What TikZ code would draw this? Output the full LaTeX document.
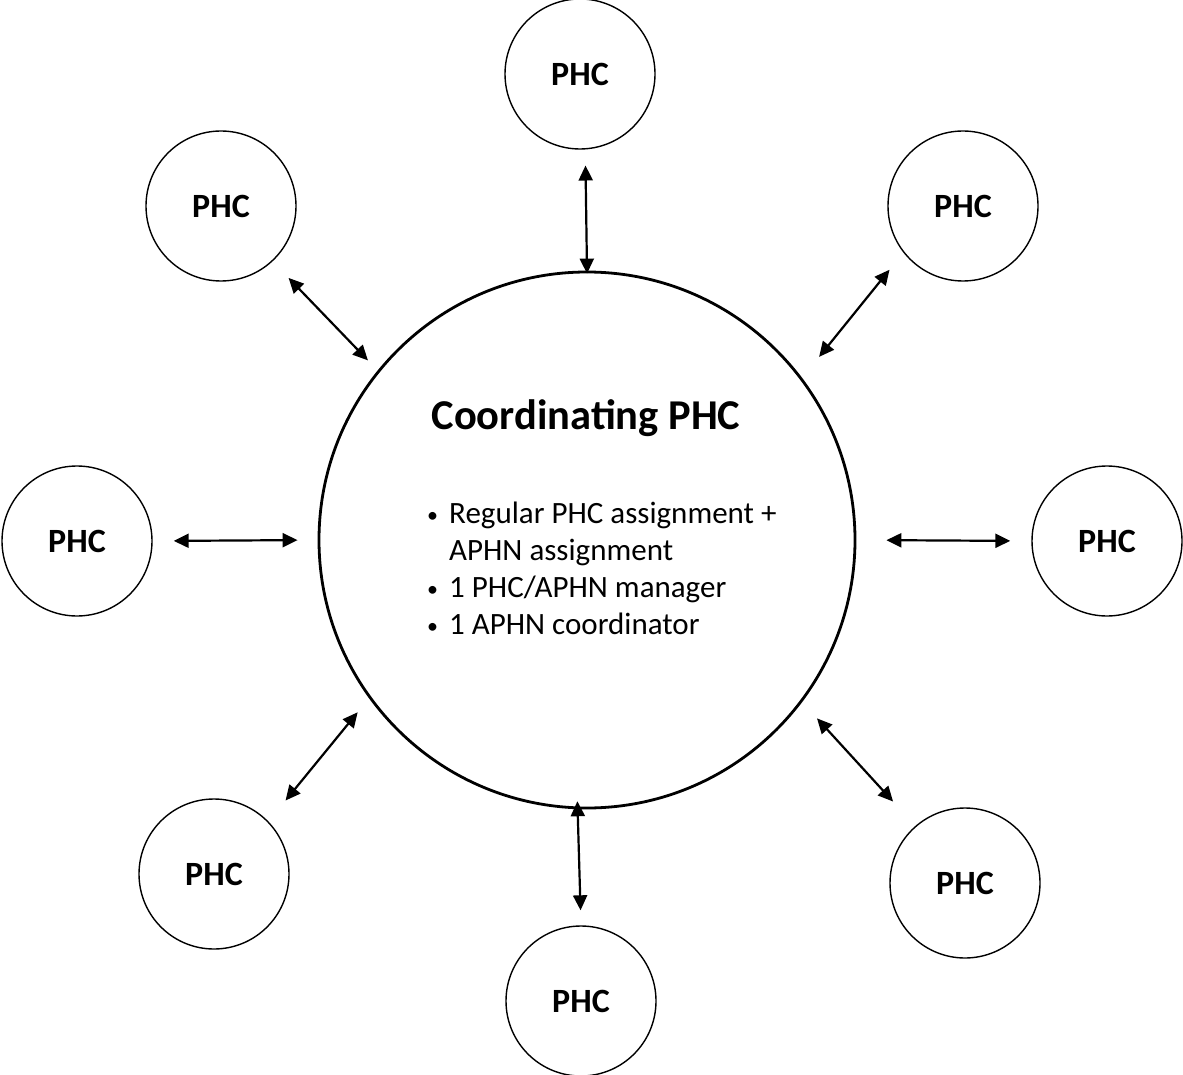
\documentclass[tikz,border=0pt]{standalone}
\usepackage{fontspec}
\setmainfont{Carlito}
\usetikzlibrary{
  arrows.meta,
  positioning,
}
\tikzset{
  >={Triangle[length=15pt,width=14pt]},
}
\newcommand{\dotitem}{\makebox[22pt][l]{\raisebox{1pt}{\fontsize{22}{22}\selectfont\textbullet}}}

\begin{document}
\begin{tikzpicture}[x=1pt, y=-1pt,
      phc/.style={circle, draw, line width=1.4pt, minimum size=150pt, inner sep=0pt,
        font=\fontsize{34}{40}\selectfont\bfseries},
      hub/.style={circle, draw, line width=2.8pt, minimum size=536pt, inner sep=0pt},
      link/.style={<->, line width=2.2pt, shorten <=21pt, shorten >=20pt},
    ]
  \useasboundingbox (0,0) rectangle (1183,1075);
  \node [hub] (hub) at (587,540) {};
  \node [font=\fontsize{42.5}{48}\selectfont\bfseries] (title) at (586,418) {Coordinating PHC};
  \node [font=\fontsize{31}{37}\selectfont, align=left, anchor=north west, inner sep=0pt]
        (tasks) at (427,502)
        {\dotitem Regular PHC assignment +\\
         \hspace*{22pt}APHN assignment\\
         \dotitem 1 PHC/APHN manager\\
         \dotitem 1 APHN coordinator};
  % surrounding centres
  \node [phc] (top)        at (580,74)   {PHC};
  \node [phc] (upperleft)  at (221,206)  {PHC};
  \node [phc] (upperright) at (963,206)  {PHC};
  \node [phc] (left)       at (77,541)   {PHC};
  \node [phc] (right)      at (1107,541) {PHC};
  \node [phc] (lowerleft)  at (214,874)  {PHC};
  \node [phc] (lowerright) at (965,883)  {PHC};
  \node [phc] (bottom)     at (581,1001) {PHC};
  \draw [link, shorten <=16pt, shorten >=-3pt] (top.-86) -- (hub.north);
  \draw [link, shorten <=23pt, shorten >=14pt] (upperleft.-47) -- (hub.141);
  \draw [link, shorten <=22pt, shorten >=27pt] (upperright.-142) -- (hub.37);
  \draw [link] (left.east) -- (hub.west);
  \draw [link, shorten >=30pt] (right.west) -- (hub.east);
  \draw [link, shorten <=27pt, shorten >=18pt] (lowerleft.44) -- (hub.-144);
  \draw [link, shorten <=33pt, shorten >=22pt] (lowerright.131) -- (hub.-37);
  \draw [link, shorten <=15pt, shorten >=-8pt] (bottom.north) -- (hub.-92);
\end{tikzpicture}
\end{document}
